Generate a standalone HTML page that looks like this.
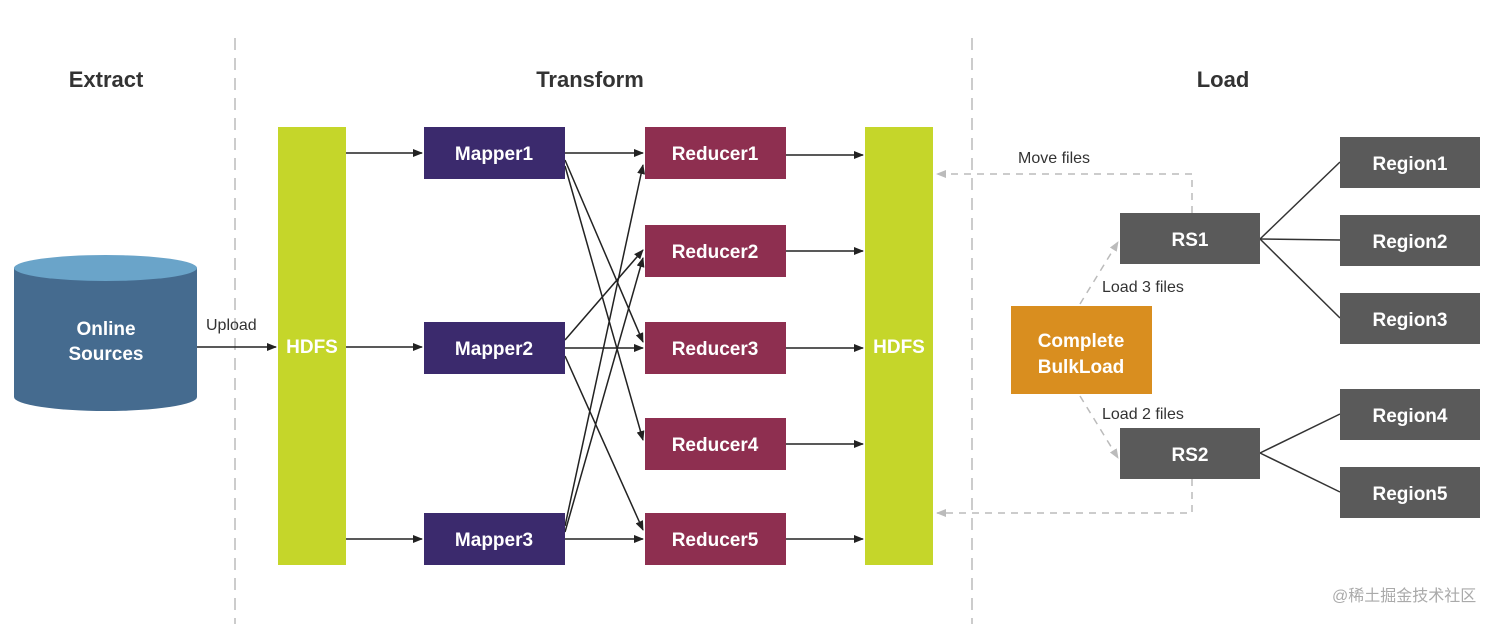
<!DOCTYPE html>
<html><head><meta charset="utf-8"><style>
html,body{margin:0;padding:0;background:#fff;}
svg{display:block;font-family:"Liberation Sans","Noto Sans CJK SC",sans-serif;}
.w{fill:#fff;font-weight:bold;font-size:19px;text-anchor:middle;}
.t{fill:#333;font-weight:bold;font-size:22px;text-anchor:middle;}
.l{fill:#333;font-size:16px;}
</style></head><body>
<svg width="1512" height="624" viewBox="0 0 1512 624">
<defs>
<marker id="a" markerWidth="10" markerHeight="8" refX="9" refY="4" orient="auto" markerUnits="userSpaceOnUse"><path d="M0,0L10,4L0,8z" fill="#222"/></marker>
<marker id="g" markerWidth="10" markerHeight="8" refX="9" refY="4" orient="auto" markerUnits="userSpaceOnUse"><path d="M0,0L10,4L0,8z" fill="#bbb"/></marker>
</defs>
<g stroke="#bbb" stroke-width="1.5" stroke-dasharray="12,8"><line x1="235" y1="38" x2="235" y2="624"/><line x1="972" y1="38" x2="972" y2="624"/></g>
<text class="t" x="106" y="87">Extract</text>
<text class="t" x="590" y="87">Transform</text>
<text class="t" x="1223" y="87">Load</text>
<path d="M14,268 L14,397 A91.5,14 0 0 0 197,397 L197,268 Z" fill="#456b8f"/>
<ellipse cx="105.5" cy="268" rx="91.5" ry="13" fill="#6aa4c9"/>
<text class="w" x="106" y="335">Online</text><text class="w" x="106" y="360">Sources</text>
<text class="l" x="206" y="330">Upload</text>
<rect x="278" y="127" width="68" height="438" fill="#c5d62a"/>
<rect x="865" y="127" width="68" height="438" fill="#c5d62a"/>
<text class="w" x="312" y="353">HDFS</text><text class="w" x="899" y="353">HDFS</text>
<g stroke="#222" stroke-width="1.5" fill="none" marker-end="url(#a)">
<line x1="197" y1="347" x2="276" y2="347"/>
<line x1="346" y1="153" x2="422" y2="153"/><line x1="346" y1="347" x2="422" y2="347"/><line x1="346" y1="539" x2="422" y2="539"/>
<line x1="565" y1="153" x2="643" y2="153"/>
<line x1="565" y1="160" x2="643" y2="342"/>
<line x1="565" y1="166" x2="643" y2="440"/>
<line x1="565" y1="340" x2="643" y2="250"/>
<line x1="565" y1="348" x2="643" y2="348"/>
<line x1="565" y1="356" x2="643" y2="530"/>
<line x1="565" y1="526" x2="643" y2="165"/>
<line x1="565" y1="532" x2="643" y2="258"/>
<line x1="565" y1="539" x2="643" y2="539"/>
<line x1="786" y1="155" x2="863" y2="155"/><line x1="786" y1="251" x2="863" y2="251"/><line x1="786" y1="348" x2="863" y2="348"/><line x1="786" y1="444" x2="863" y2="444"/><line x1="786" y1="539" x2="863" y2="539"/>
</g>
<g fill="#3b2a6d"><rect x="424" y="127" width="141" height="52"/><rect x="424" y="322" width="141" height="52"/><rect x="424" y="513" width="141" height="52"/></g>
<text class="w" x="494" y="160">Mapper1</text><text class="w" x="494" y="355">Mapper2</text><text class="w" x="494" y="546">Mapper3</text>
<g fill="#8e2f50"><rect x="645" y="127" width="141" height="52"/><rect x="645" y="225" width="141" height="52"/><rect x="645" y="322" width="141" height="52"/><rect x="645" y="418" width="141" height="52"/><rect x="645" y="513" width="141" height="52"/></g>
<text class="w" x="715" y="160">Reducer1</text><text class="w" x="715" y="258">Reducer2</text><text class="w" x="715" y="355">Reducer3</text><text class="w" x="715" y="451">Reducer4</text><text class="w" x="715" y="546">Reducer5</text>
<g stroke="#bbb" stroke-width="1.5" fill="none" stroke-dasharray="7,6">
<polyline points="1192,213 1192,174 937,174" marker-end="url(#g)"/>
<polyline points="1192,479 1192,513 937,513" marker-end="url(#g)"/>
<line x1="1080" y1="304" x2="1118" y2="242" marker-end="url(#g)"/>
<line x1="1080" y1="396" x2="1118" y2="458" marker-end="url(#g)"/>
</g>
<text class="l" x="1018" y="163">Move files</text>
<text class="l" x="1102" y="292">Load 3 files</text>
<text class="l" x="1102" y="419">Load 2 files</text>
<g stroke="#333" stroke-width="1.5">
<line x1="1260" y1="239" x2="1340" y2="162"/><line x1="1260" y1="239" x2="1340" y2="240"/><line x1="1260" y1="239" x2="1340" y2="318"/>
<line x1="1260" y1="453" x2="1340" y2="414"/><line x1="1260" y1="453" x2="1340" y2="492"/>
</g>
<rect x="1011" y="306" width="141" height="88" fill="#d98e1f"/>
<text class="w" x="1081" y="347">Complete</text><text class="w" x="1081" y="373">BulkLoad</text>
<g fill="#5a5a5a"><rect x="1120" y="213" width="140" height="51"/><rect x="1120" y="428" width="140" height="51"/>
<rect x="1340" y="137" width="140" height="51"/><rect x="1340" y="215" width="140" height="51"/><rect x="1340" y="293" width="140" height="51"/><rect x="1340" y="389" width="140" height="51"/><rect x="1340" y="467" width="140" height="51"/></g>
<text class="w" x="1190" y="246">RS1</text><text class="w" x="1190" y="461">RS2</text>
<text class="w" x="1410" y="170">Region1</text><text class="w" x="1410" y="248">Region2</text><text class="w" x="1410" y="326">Region3</text><text class="w" x="1410" y="422">Region4</text><text class="w" x="1410" y="500">Region5</text>
<text x="1332" y="601" fill="#aaa" font-size="16">@稀土掘金技术社区</text>
</svg>
</body></html>
